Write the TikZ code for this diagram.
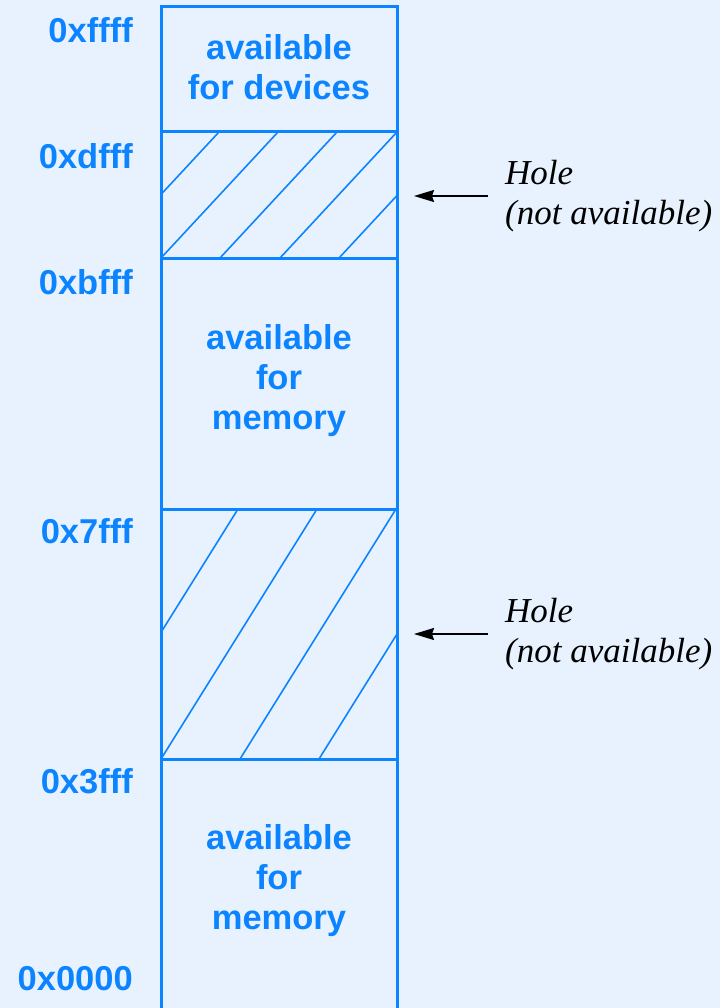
\documentclass[tikz,border=0pt]{standalone}
\usepackage{fontspec}
\setmainfont{Liberation Serif}
\newfontfamily\labelfont{Liberation Sans}
\usetikzlibrary{arrows.meta}
\definecolor{bgblue}{RGB}{232,242,254}
\definecolor{mapblue}{RGB}{12,132,255}

\begin{document}
\begin{tikzpicture}[x=1pt,y=-1pt,
	every node/.style={inner sep=3pt},
	addr/.style={anchor=east, text=mapblue, font=\labelfont\bfseries\fontsize{34.5}{40}\selectfont},
	region/.style={align=center, text=mapblue, font=\labelfont\bfseries\fontsize{34.5}{40}\selectfont},
	holetext/.style={anchor=west, align=left, font=\itshape\fontsize{35}{40}\selectfont},
	boxline/.style={draw=mapblue, line width=3pt},
	hatch/.style={draw=mapblue, line width=1.6pt},
	pointer/.style={-{Stealth[length=20pt,width=12pt,inset=2pt]}, line width=1.6pt}]
	\fill[bgblue] (0,0) rectangle (720,1008);
	\useasboundingbox (0,0) rectangle (720,1008);
	% hatched holes
	\begin{scope}
		\clip (161,132) rectangle (397,258);
		\foreach \b in {102,161,220,280,339}
			\draw[hatch] (\b,258) -- ++(117,-126);
	\end{scope}
	\begin{scope}
		\clip (161,509) rectangle (397,759);
		\foreach \b in {82,161,240,319}
			\draw[hatch] (\b,759) -- ++(156,-250);
	\end{scope}
	% the memory column
	\draw[boxline] (161,1012) -- (161,7) -- (397,7) -- (397,1012);
	\foreach \y in {132,258,509,759}
		\draw[boxline] (161,\y) -- (397,\y);
	\node[region] (devices) at (279,67) {available\\for devices};
	\node[region] (memhigh) at (279,381) {available\\for\\memory};
	\node[region] (memlow) at (279,881) {available\\for\\memory};
	% addresses
	\node[addr] (affff) at (136,30) {0xffff};
	\node[addr] (adfff) at (136,156) {0xdfff};
	\node[addr] (abfff) at (136,282) {0xbfff};
	\node[addr] (a7fff) at (136,531) {0x7fff};
	\node[addr] (a3fff) at (136,781) {0x3fff};
	\node[addr] (a0000) at (136,979) {0x0000};
	% holes
	\node[holetext] (hole1) at (502,196) {Hole\\(not available)};
	\node[holetext] (hole2) at (502,634) {Hole\\(not available)};
	\coordinate (in1) at (414,196);
	\coordinate (in2) at (414,634);
	\draw[pointer] ([xshift=-14pt]hole1.west) -- (in1);
	\draw[pointer] ([xshift=-14pt]hole2.west) -- (in2);
\end{tikzpicture}
\end{document}
